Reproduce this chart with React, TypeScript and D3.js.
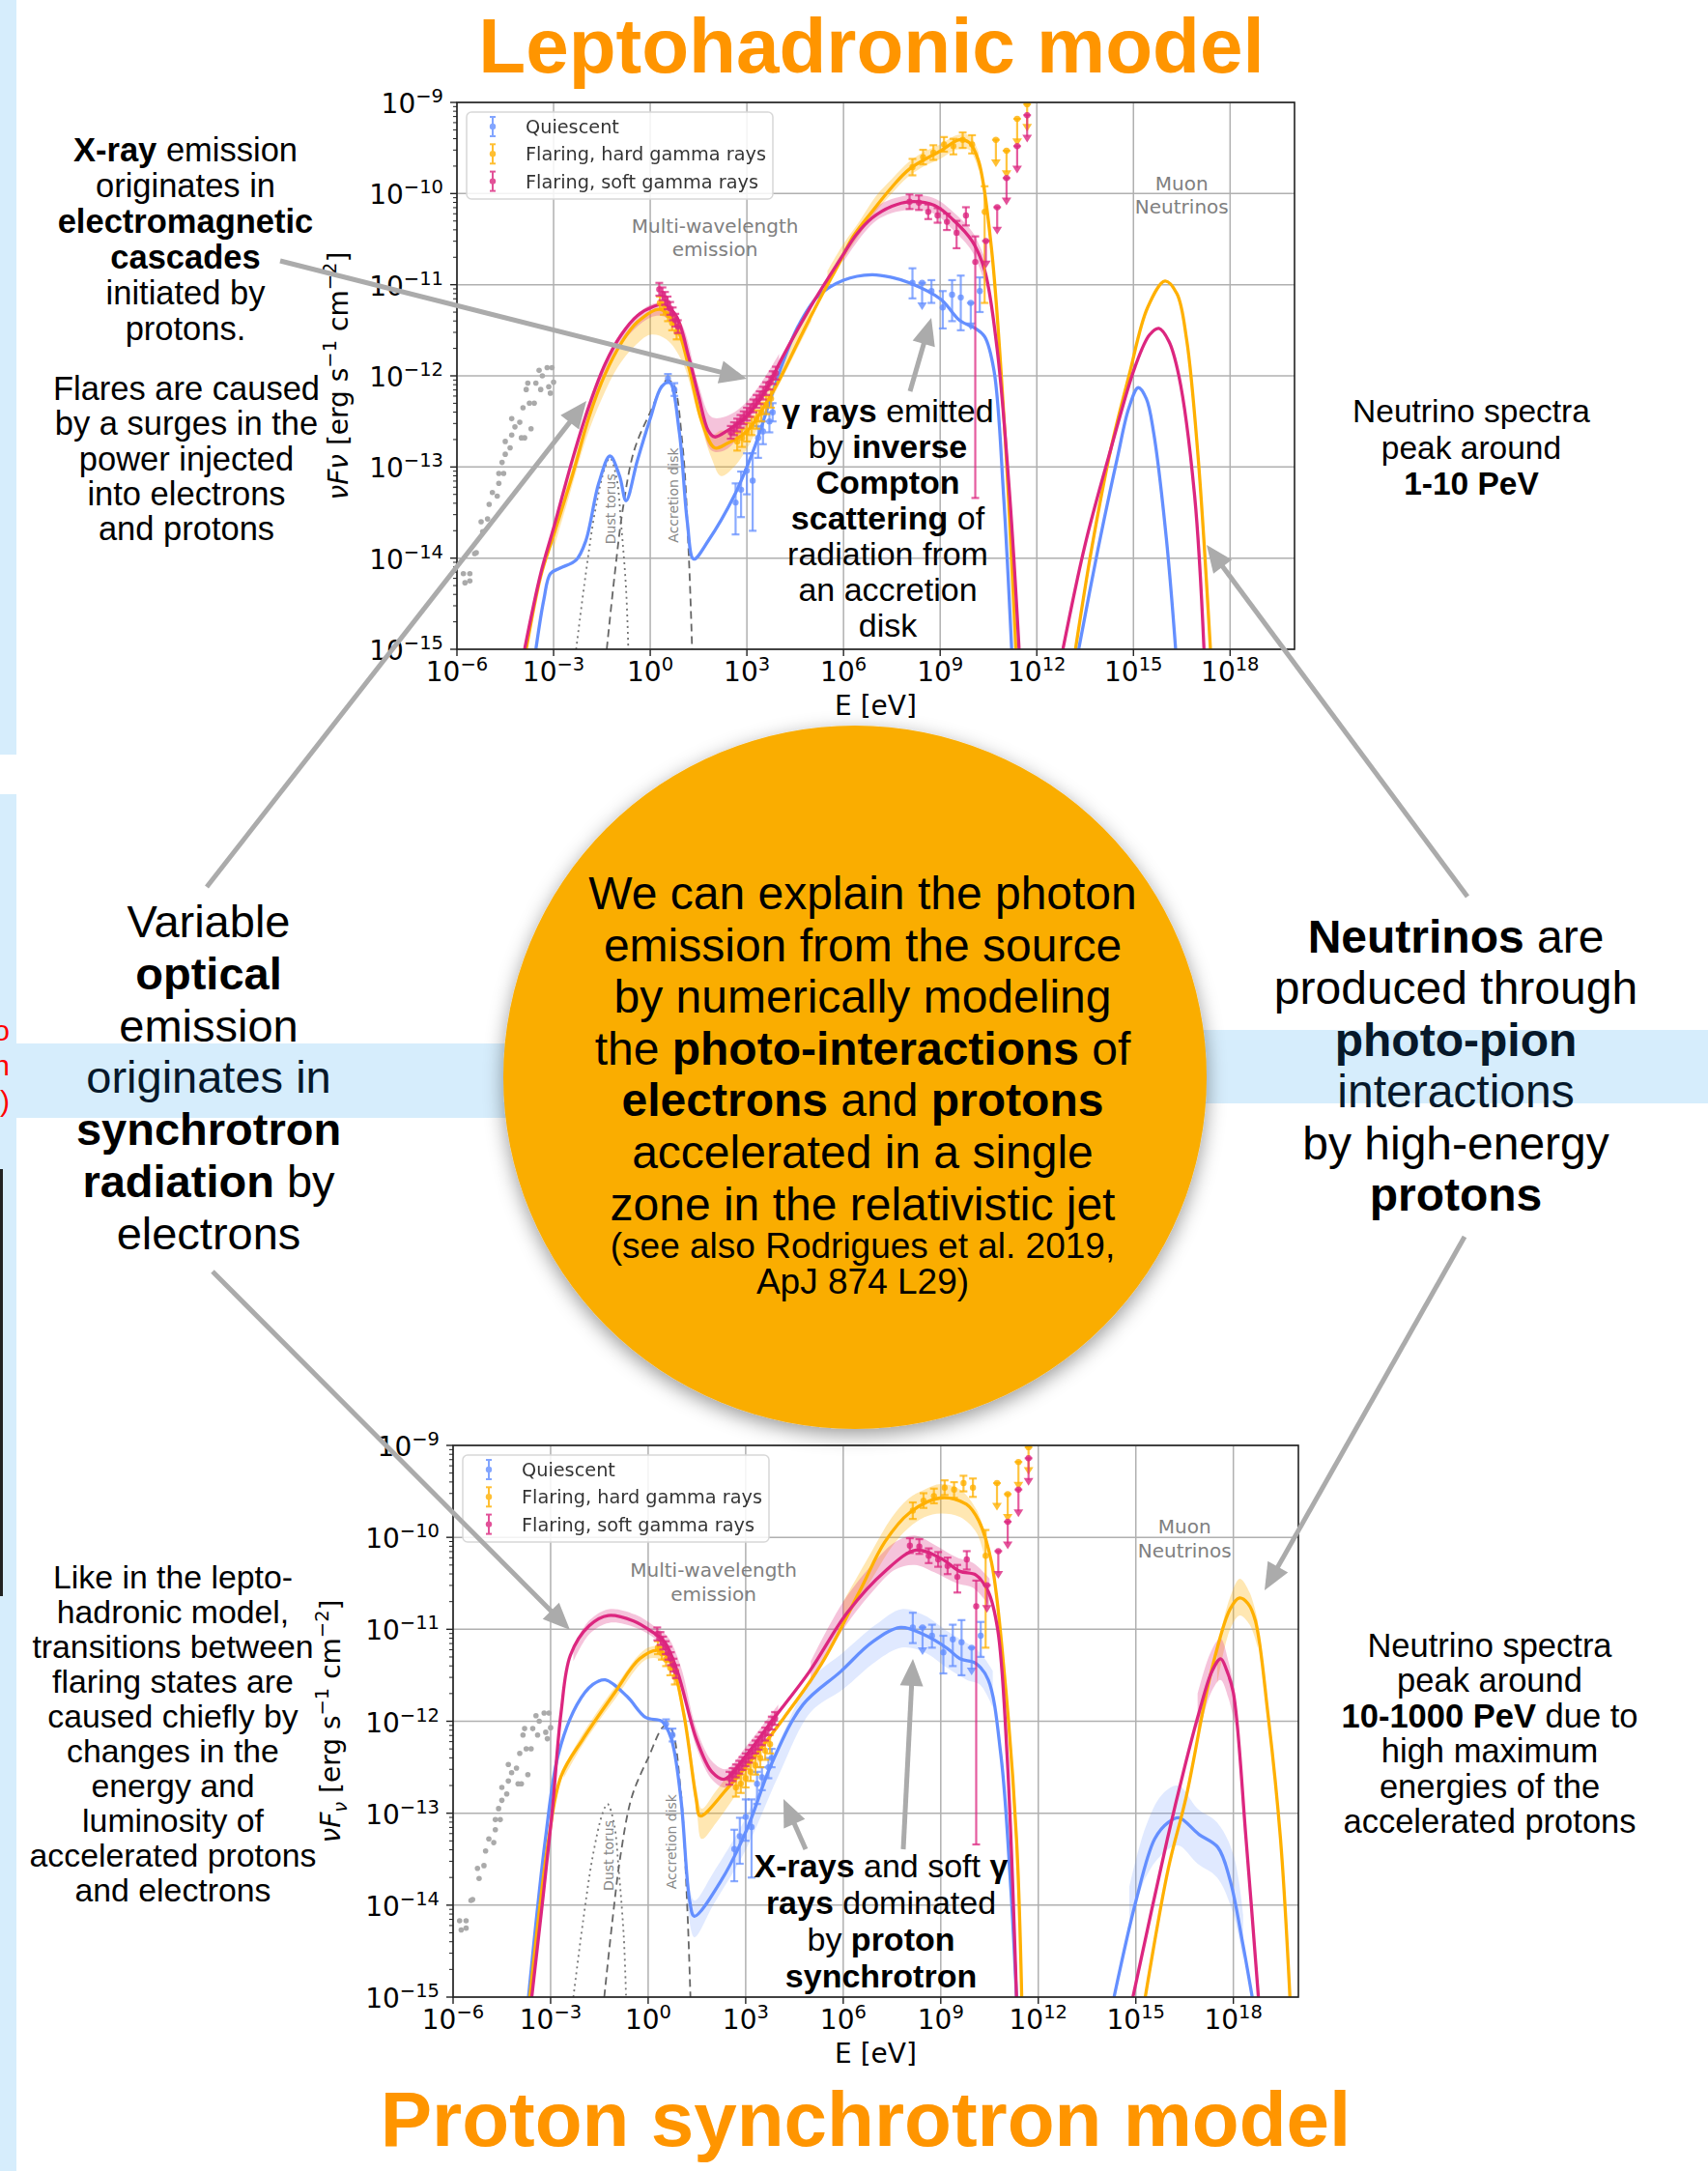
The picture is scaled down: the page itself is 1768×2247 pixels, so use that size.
import React from 'react'
import * as d3 from 'd3'

// page + fonts
const W = 1768
const H = 2247
const SANS = '"Liberation Sans", Arial, Helvetica, sans-serif'
const MPL = '"DejaVu Sans", sans-serif'

const BLUE = '#648FFF'
const ORANGE = '#FFB000'
const MAGENTA = '#DC267F'
const TITLE = '#FF9500'
const DISK = '#FAAD00'
const BAND = '#D6EDFC'
const ARROW = '#ABABAB'

// ---- data: [log10 E/eV, log10 nuFnu] ----
const xTicks = [-6, -3, 0, 3, 6, 9, 12, 15, 18]
const yTicks = [-15, -14, -13, -12, -11, -10, -9]

// leptohadronic model curves
const leptoBlue = [[-3.55,-15],[-3.3,-14.45],[-3.1,-14.17],[-2.8,-14.11],[-2.3,-14.02],[-2.0,-13.81],[-1.6,-13.18],[-1.25,-12.88],[-0.95,-13.1],[-0.75,-13.37],[-0.4,-12.93],[0,-12.47],[0.35,-12.12],[0.6,-12.07],[0.9,-12.61],[1.15,-13.6],[1.35,-14.01],[1.8,-13.81],[2.6,-13.32],[3.2,-12.82],[3.6,-12.4],[4.1,-11.87],[4.6,-11.45],[5.2,-11.13],[6.0,-10.95],[6.88,-10.89],[7.5,-10.92],[8.05,-10.98],[9.02,-11.16],[9.6,-11.39],[10.09,-11.48],[10.38,-11.57],[10.67,-11.94],[10.97,-13.32],[11.22,-15]]
const leptoOrange = [[-3.85,-15],[-3.4,-14.2],[-3.0,-13.75],[-2.4,-13.07],[-1.9,-12.45],[-1.4,-11.98],[-0.9,-11.64],[-0.4,-11.41],[0.3,-11.27],[0.8,-11.45],[1.2,-11.91],[1.6,-12.5],[2.0,-12.79],[2.4,-12.74],[3.0,-12.61],[3.6,-12.3],[4.1,-11.98],[4.6,-11.62],[5.2,-11.2],[5.9,-10.74],[6.3,-10.47],[6.88,-10.2],[7.5,-9.93],[8.05,-9.73],[9.02,-9.53],[9.6,-9.41],[9.9,-9.44],[10.19,-9.64],[10.58,-10.56],[10.97,-12.4],[11.35,-15]]
const leptoMagenta = [[-3.9,-15],[-3.4,-14.17],[-3.0,-13.67],[-2.4,-12.9],[-1.9,-12.33],[-1.4,-11.87],[-0.9,-11.55],[-0.4,-11.34],[0.1,-11.24],[0.4,-11.22],[0.8,-11.34],[1.2,-11.8],[1.5,-12.22],[1.8,-12.6],[2.0,-12.67],[2.4,-12.6],[3.0,-12.44],[3.6,-12.15],[4.1,-11.8],[5.1,-11.17],[5.9,-10.72],[6.4,-10.45],[6.88,-10.27],[7.5,-10.14],[8.05,-10.09],[8.82,-10.13],[9.41,-10.29],[9.99,-10.52],[10.38,-10.84],[10.77,-11.71],[11.16,-13.32],[11.45,-15]]
const leptoNuOrange = [[13.2,-15],[13.7,-13.9],[14.3,-12.8],[14.86,-12.0],[15.44,-11.25],[15.98,-10.96],[16.35,-11.1],[16.65,-11.6],[17.0,-12.86],[17.39,-15]]
const leptoNuMagenta = [[12.81,-15],[13.5,-13.85],[14.3,-12.8],[15.05,-11.9],[15.5,-11.55],[15.79,-11.48],[16.1,-11.62],[16.41,-12.0],[16.9,-13.32],[17.19,-15]]
const leptoNuBlue = [[13.3,-15],[13.9,-13.9],[14.5,-12.9],[14.86,-12.35],[15.15,-12.13],[15.4,-12.25],[15.63,-12.63],[16.02,-13.78],[16.31,-15]]

// leptohadronic uncertainty bands: [logE, low, high]
const leptoOrangeBand = [
  [[-3,-13.9,-13.7],[-2.5,-13.3,-13.1],[-2,-12.7,-12.5],[-1.5,-12.25,-12.02],[-1,-11.9,-11.68],[-0.5,-11.68,-11.44],[0,-11.55,-11.3],[0.5,-11.6,-11.3],[1,-11.85,-11.6],[1.5,-12.45,-12.2],[1.9,-12.9,-12.65],[2.2,-13.1,-12.6],[2.6,-13.0,-12.62],[3,-12.8,-12.52],[3.5,-12.45,-12.25],[4,-12.1,-11.9],[4.5,-11.75,-11.55],[5,-11.4,-11.2]],
  [[5.5,-11.05,-10.85],[6,-10.72,-10.55],[6.5,-10.45,-10.3],[7,-10.2,-10.03],[7.5,-10.0,-9.84],[8,-9.82,-9.66],[8.5,-9.7,-9.54],[9,-9.62,-9.46],[9.5,-9.52,-9.36],[9.9,-9.52,-9.36],[10.2,-9.75,-9.55]],
]
const leptoMagentaBand = [
  [[-2,-12.5,-12.4],[-1,-11.7,-11.58],[0,-11.36,-11.22],[0.5,-11.36,-11.22],[1,-11.62,-11.45],[1.5,-12.3,-12.1],[1.9,-12.82,-12.45],[2.3,-12.82,-12.45],[2.8,-12.65,-12.35],[3.4,-12.3,-12.1],[4,-11.92,-11.76]],
  [[6,-10.75,-10.62],[7,-10.3,-10.15],[8,-10.18,-10.02],[8.8,-10.22,-10.05],[9.4,-10.4,-10.2],[10,-10.64,-10.42],[10.4,-11.0,-10.72]],
]

// proton synchrotron model curves
const protonBlue = [[-3.68,-15],[-3.16,-13.28],[-2.77,-12.37],[-2.19,-11.82],[-1.7,-11.6],[-1.32,-11.55],[-0.65,-11.73],[-0.07,-11.96],[0.42,-12.0],[0.71,-12.19],[1.0,-12.82],[1.28,-13.96],[1.42,-14.12],[2.25,-13.73],[3.02,-13.19],[3.8,-12.46],[4.76,-11.82],[5.92,-11.46],[6.89,-11.14],[7.76,-10.98],[8.43,-11.05],[9.21,-11.21],[9.59,-11.32],[10.08,-11.37],[10.46,-11.55],[10.85,-12.37],[11.14,-13.73],[11.33,-15]]
const protonOrange = [[-3.64,-15],[-3.06,-13.28],[-2.68,-12.6],[-2.0,-12.19],[-1.03,-11.69],[-0.26,-11.32],[0.32,-11.23],[0.71,-11.37],[1.09,-11.91],[1.48,-12.85],[1.6,-13.03],[2.44,-12.73],[3.41,-12.32],[4.18,-11.96],[5.34,-11.37],[6.5,-10.59],[7.28,-10.05],[8.05,-9.73],[9.01,-9.57],[9.79,-9.64],[10.17,-9.82],[10.56,-10.27],[10.95,-11.46],[11.33,-13.28],[11.49,-15]]
const protonMagenta = [[-3.58,-15],[-2.97,-13.05],[-2.68,-11.91],[-2.39,-11.28],[-1.81,-10.96],[-1.23,-10.85],[-0.45,-10.91],[0.13,-11.03],[0.51,-11.14],[0.9,-11.46],[1.48,-12.19],[1.96,-12.55],[2.35,-12.63],[3.02,-12.37],[3.8,-12.0],[4.96,-11.46],[6.12,-10.82],[7.28,-10.37],[8.24,-10.14],[9.01,-10.23],[9.59,-10.37],[10.08,-10.41],[10.46,-10.59],[10.75,-11.0],[11.04,-12.37],[11.33,-15]]
const protonNuOrange = [[15.29,-15],[16.0,-13.6],[16.55,-12.82],[17.32,-11.46],[17.9,-10.78],[18.19,-10.66],[18.45,-10.72],[18.68,-10.91],[19.06,-11.91],[19.45,-13.28],[19.74,-15]]
const protonNuMagenta = [[14.91,-15],[15.97,-13.28],[16.5,-12.5],[16.94,-11.91],[17.35,-11.45],[17.61,-11.32],[17.8,-11.45],[18.0,-11.69],[18.39,-13.28],[18.77,-15]]
const protonNuBlue = [[14.33,-15],[15.0,-13.96],[15.58,-13.28],[16.0,-13.1],[16.32,-13.05],[16.94,-13.23],[17.52,-13.37],[17.9,-13.73],[18.29,-14.42],[18.58,-15]]

const protonOrangeBand = [
  [[-2.6,-12.62,-12.5],[-2,-12.25,-12.13],[-1,-11.75,-11.62],[0,-11.32,-11.2],[0.6,-11.38,-11.22],[1.1,-12.0,-11.85],[1.5,-13.0,-12.75],[1.65,-13.28,-12.95],[2.1,-13.1,-12.75],[2.8,-12.75,-12.45],[3.5,-12.4,-12.25]],
  [[6,-10.95,-10.7],[6.8,-10.5,-10.2],[7.5,-10.1,-9.78],[8,-9.9,-9.58],[8.5,-9.78,-9.48],[9,-9.74,-9.42],[9.6,-9.78,-9.48],[10.1,-9.95,-9.7],[10.4,-10.3,-10.0]],
  [[17.5,-11.6,-11.2],[17.9,-11.0,-10.65],[18.2,-10.85,-10.45],[18.5,-10.95,-10.6],[18.75,-11.2,-10.9]],
]
const protonMagentaBand = [
  [[-2.3,-11.35,-11.18],[-1.8,-11.05,-10.9],[-1.2,-10.93,-10.78],[-0.4,-10.98,-10.84],[0.2,-11.1,-10.97],[0.6,-11.25,-11.08],[1.0,-11.6,-11.4],[1.5,-12.3,-12.1],[2,-12.65,-12.45],[2.4,-12.72,-12.52],[3,-12.45,-12.28],[4,-11.98,-11.82]],
  [[5,-11.6,-11.35],[6,-11.0,-10.7],[7,-10.55,-10.25],[7.6,-10.35,-10.05],[8.2,-10.3,-9.98],[8.8,-10.38,-10.08],[9.5,-10.5,-10.22],[10,-10.55,-10.28],[10.5,-10.75,-10.45]],
  [[16.9,-12.2,-11.7],[17.3,-11.7,-11.25],[17.6,-11.55,-11.1],[17.85,-11.75,-11.35],[18.05,-12.05,-11.7]],
]
const protonBlueBand = [
  [[1.2,-13.95,-13.6],[1.42,-14.35,-13.95],[2,-14.0,-13.65],[3,-13.4,-13.05],[4,-12.6,-12.25],[5,-11.9,-11.55],[6,-11.65,-11.25],[7,-11.35,-10.95],[7.8,-11.2,-10.78],[8.5,-11.25,-10.85],[9.2,-11.42,-11.02],[9.8,-11.55,-11.15],[10.2,-11.6,-11.25],[10.6,-11.85,-11.45]],
  [[14.8,-14.25,-13.8],[15.3,-13.7,-13.15],[15.8,-13.45,-12.8],[16.3,-13.35,-12.7],[16.9,-13.55,-12.95],[17.5,-13.7,-13.1],[18,-14.1,-13.45],[18.3,-14.6,-14.1]],
]

// thermal components (same in both panels)
const dustTorus = [[-2.3,-15],[-2.0,-14.17],[-1.7,-13.46],[-1.4,-13.0],[-1.25,-12.9],[-1.05,-13.11],[-0.9,-13.64],[-0.75,-14.34],[-0.68,-15]]
const accretionDisk = [[-1.35,-15],[-1.1,-14.17],[-0.85,-13.46],[-0.5,-12.82],[0,-12.4],[0.5,-12.05],[0.7,-12.08],[1.0,-12.75],[1.2,-14.0],[1.3,-15]]

// archival radio points
const radioDots = [[-5.8,-14.17],[-5.6,-14.17],[-5.75,-14.27],[-5.6,-14.25],[-5.45,-13.95],[-5.4,-13.94],[-5.25,-13.6],[-5.2,-13.71],[-5.05,-13.57],[-5.0,-13.41],[-4.9,-13.28],[-4.75,-13.32],[-4.7,-13.07],[-4.6,-12.95],[-4.7,-13.18],[-4.55,-13.07],[-4.5,-12.86],[-4.35,-12.79],[-4.3,-12.65],[-4.5,-12.72],[-4.3,-12.47],[-4.2,-12.56],[-4.05,-12.51],[-4.0,-12.68],[-3.9,-12.68],[-3.95,-12.35],[-3.85,-12.15],[-3.8,-12.08],[-3.75,-12.3],[-3.7,-12.58],[-3.6,-12.3],[-3.55,-12.08],[-3.45,-11.94],[-3.4,-12.15],[-3.35,-12.0],[-3.2,-11.91],[-3.15,-12.12],[-3.05,-11.91],[-3.0,-12.07],[-3.1,-12.19]]

// observations: [logE, logF, errLow, errHigh, upperLimit]
const quiescentObs = [[0.55,-12.03,-12.08,-11.98],[0.75,-12.15,-12.22,-12.08],[2.65,-13.39,-13.74,-13.18],[2.82,-13.25,-13.55,-13.05],[3.0,-13.04,-13.3,-12.85],[3.18,-13.15,-13.7,-12.85],[3.35,-12.68,-12.9,-12.55],[3.5,-12.61,-12.75,-12.5],[3.7,-12.5,-12.62,-12.4],[3.8,-12.4,-12.5,-12.3],[8.14,-10.98,-11.15,-10.82],[8.44,-10.98,0,0,1],[8.73,-11.07,-11.2,-10.95],[9.08,-11.25,-11.48,-11.07],[9.37,-11.11,-11.4,-10.95],[9.64,-11.14,-11.5,-10.9],[9.95,-11.2,0,0,1],[10.23,-11.07,-11.3,-10.92]]
const hardObs = [[0.3,-11.2,-11.27,-11.13],[0.42,-11.26,-11.33,-11.19],[0.55,-11.33,-11.4,-11.26],[0.68,-11.42,-11.5,-11.35],[0.82,-11.52,-11.6,-11.44],[2.7,-12.72,-12.82,-12.62],[2.85,-12.68,-12.78,-12.58],[3.0,-12.62,-12.72,-12.52],[3.15,-12.55,-12.65,-12.45],[3.3,-12.48,-12.58,-12.38],[3.45,-12.4,-12.5,-12.3],[3.6,-12.32,-12.42,-12.22],[3.75,-12.25,-12.35,-12.15],[8.14,-9.71,-9.8,-9.62],[8.47,-9.6,-9.68,-9.52],[8.79,-9.55,-9.63,-9.47],[9.12,-9.46,-9.54,-9.38],[9.41,-9.48,-9.57,-9.4],[9.7,-9.41,-9.5,-9.33],[9.99,-9.46,-9.56,-9.36],[10.38,-10.2,-11.2,-9.92],[10.73,-9.41,0,0,1],[11.06,-9.53,0,0,1],[11.39,-9.18,0,0,1],[11.7,-9.02,0,0,1]]
const softObs = [[0.28,-11.05,-11.12,-10.98],[0.38,-11.1,-11.17,-11.03],[0.46,-11.15,-11.22,-11.08],[0.54,-11.2,-11.27,-11.13],[0.62,-11.26,-11.33,-11.19],[0.7,-11.32,-11.39,-11.25],[0.78,-11.39,-11.46,-11.32],[0.86,-11.46,-11.53,-11.39],[2.5,-12.62,-12.69,-12.55],[2.6,-12.58,-12.65,-12.51],[2.7,-12.54,-12.61,-12.47],[2.8,-12.5,-12.57,-12.43],[2.9,-12.46,-12.53,-12.39],[3.0,-12.42,-12.49,-12.35],[3.1,-12.38,-12.45,-12.31],[3.2,-12.33,-12.4,-12.26],[3.3,-12.28,-12.35,-12.21],[3.4,-12.24,-12.31,-12.17],[3.5,-12.19,-12.26,-12.12],[3.6,-12.14,-12.21,-12.07],[3.7,-12.08,-12.15,-12.01],[3.8,-12.02,-12.09,-11.95],[3.9,-11.97,-12.04,-11.9],[8.05,-10.09,-10.17,-10.01],[8.34,-10.1,-10.18,-10.02],[8.63,-10.2,-10.28,-10.12],[8.92,-10.24,-10.32,-10.16],[9.21,-10.31,-10.4,-10.22],[9.51,-10.43,-10.6,-10.3],[9.8,-10.24,-10.35,-10.15],[10.09,-10.75,-13.34,-10.47],[10.42,-10.52,0,0,1],[10.77,-10.15,0,0,1],[11.06,-9.83,0,0,1],[11.39,-9.48,0,0,1],[11.7,-9.14,0,0,1]]

const legendLabels = ['Quiescent', 'Flaring, hard gamma rays', 'Flaring, soft gamma rays']

// text blocks (** marks bold)
const cascadeText = ['**X-ray** emission', 'originates in', '**electromagnetic**', '**cascades**', 'initiated by', 'protons.']
const flaresText = ['Flares are caused', 'by a surges in the', 'power injected', 'into electrons', 'and protons']
const opticalText = ['Variable', '**optical**', 'emission', 'originates in', '**synchrotron**', '**radiation** by', 'electrons']
const discText = ['We can explain the photon', 'emission from the source', 'by numerically modeling', 'the **photo-interactions** of', '**electrons** and **protons**', 'accelerated in a single', 'zone in the relativistic jet']
const citeText = ['(see also Rodrigues et al. 2019,', 'ApJ 874 L29)']
const nuPeakText = ['Neutrino spectra', 'peak around', '**1-10 PeV**']
const nuProdText = ['**Neutrinos** are', 'produced through', '**photo-pion**', 'interactions', 'by high-energy', '**protons**']
const likeText = ['Like in the lepto-', 'hadronic model,', 'transitions between', 'flaring states are', 'caused chiefly by', 'changes in the', 'energy and', 'luminosity of', 'accelerated protons', 'and electrons']
const nuPeak2Text = ['Neutrino spectra', 'peak around', '**10-1000 PeV** due to', 'high maximum', 'energies of the', 'accelerated protons']
const icText = ['**γ rays** emitted', 'by **inverse**', '**Compton**', '**scattering** of', 'radiation from', 'an accretion', 'disk']
const psText = ['**X-rays** and soft **γ**', '**rays** dominated', 'by **proton**', '**synchrotron**']

// arrows: x1, y1, x2 (tip), y2
const arrows = [
  [290, 270, 773, 392],
  [214, 918, 607, 415],
  [220, 1316, 590, 1687],
  [942, 405, 964, 329],
  [1519, 928, 1249, 564],
  [1516, 1280, 1309, 1646],
  [834, 1914, 811, 1862],
  [935, 1914, 945, 1717],
]

function Rich({ s }: { s: string }) {
  const parts = s.split('**')
  return (
    <>
      {parts.map((p, i) => (p ? <tspan key={i} fontWeight={i % 2 ? 'bold' : 'normal'}>{p}</tspan> : null))}
    </>
  )
}

function TextBlock({ x, y, dy, size, lines, fill = '#000', tint = [] as number[] }) {
  return (
    <text fontFamily={SANS} fontSize={size} textAnchor="middle" style={{ whiteSpace: 'pre' }}>
      {lines.map((ln: string, i: number) => (
        <tspan key={i} x={x} y={y + i * dy} fill={tint.includes(i) ? '#06182a' : fill}>
          <Rich s={ln} />
        </tspan>
      ))}
    </text>
  )
}

function Arrow({ a }: { a: number[] }) {
  const [x1, y1, x2, y2] = a
  const len = Math.hypot(x2 - x1, y2 - y1)
  const ux = (x2 - x1) / len
  const uy = (y2 - y1) / len
  const hl = 28
  const hw = 12
  const bx = x2 - ux * hl
  const by = y2 - uy * hl
  return (
    <g>
      <line x1={x1} y1={y1} x2={bx + ux * 4} y2={by + uy * 4} stroke={ARROW} strokeWidth={5} />
      <polygon points={`${x2},${y2} ${bx - uy * hw},${by + ux * hw} ${bx + uy * hw},${by - ux * hw}`} fill={ARROW} />
    </g>
  )
}

function Sup({ v }: { v: number }) {
  return (
    <>
      <tspan>10</tspan>
      <tspan dy={-11} fontSize={19.5}>{v < 0 ? '\u2212' + Math.abs(v) : String(v)}</tspan>
    </>
  )
}

function ErrorBars({ data, color, X, Y }) {
  return (
    <g stroke={color} fill={color} strokeOpacity={0.75} fillOpacity={0.8} strokeWidth={2.2}>
      {data.map((d: number[], i: number) => {
        const [e, f, lo, hi, ul] = d
        const cx = X(e)
        if (ul) {
          const y0 = Y(f)
          const y1 = Y(f - 0.3)
          return (
            <g key={i}>
              <line x1={cx - 4} x2={cx + 4} y1={y0} y2={y0} />
              <line x1={cx} x2={cx} y1={y0} y2={y1 - 6} />
              <path d={`M${cx - 5},${y1 - 8}L${cx + 5},${y1 - 8}L${cx},${y1}Z`} stroke="none" />
              <circle cx={cx} cy={y0} r={3.2} stroke="none" />
            </g>
          )
        }
        return (
          <g key={i}>
            <line x1={cx} x2={cx} y1={Y(lo)} y2={Y(hi)} />
            <line x1={cx - 4} x2={cx + 4} y1={Y(lo)} y2={Y(lo)} />
            <line x1={cx - 4} x2={cx + 4} y1={Y(hi)} y2={Y(hi)} />
            <circle cx={cx} cy={Y(f)} r={3.2} stroke="none" />
          </g>
        )
      })}
    </g>
  )
}

function SedPanel({ box, blue, orange, magenta, bands, sub, labelX, id }) {
  const { l, r, t, b } = box
  const x = d3.scaleLog().domain([1e-6, 1e20]).range([l, r])
  const y = d3.scaleLog().domain([1e-15, 1e-9]).range([b, t])
  const X = (e: number) => x(Math.pow(10, e))
  const Y = (f: number) => y(Math.pow(10, f))
  const curve = d3.curveCatmullRom.alpha(0.5)
  const line = d3.line<number[]>().x(d => X(d[0])).y(d => Y(d[1])).curve(curve)
  const area = d3.area<number[]>().x(d => X(d[0])).y0(d => Y(d[1])).y1(d => Y(d[2])).curve(curve)
  const minor: number[] = []
  for (let k = -15; k < -9; k++) for (let m = 2; m < 10; m++) minor.push(k + Math.log10(m))
  const obs = [
    { data: quiescentObs, color: BLUE },
    { data: hardObs, color: ORANGE },
    { data: softObs, color: MAGENTA },
  ]
  return (
    <g>
      <defs>
        <clipPath id={id}>
          <rect x={l} y={t} width={r - l} height={b - t} />
        </clipPath>
      </defs>
      <rect x={l} y={t} width={r - l} height={b - t} fill="#fff" />
      <g stroke="#b0b0b0" strokeWidth={1.5}>
        {xTicks.map(e => <line key={'gx' + e} x1={X(e)} x2={X(e)} y1={t} y2={b} />)}
        {yTicks.map(f => <line key={'gy' + f} x1={l} x2={r} y1={Y(f)} y2={Y(f)} />)}
      </g>
      <g clipPath={`url(#${id})`}>
        <path d={line(dustTorus) || ''} fill="none" stroke="#777" strokeWidth={1.8} strokeDasharray="2,4" />
        <path d={line(accretionDisk) || ''} fill="none" stroke="#666" strokeWidth={1.8} strokeDasharray="8,5" />
        {radioDots.map((d, i) => <circle key={i} cx={X(d[0])} cy={Y(d[1])} r={2.8} fill="#aaa" />)}
        {bands.orange.map((s, i) => <path key={'bo' + i} d={area(s) || ''} fill={ORANGE} fillOpacity={0.3} />)}
        {bands.magenta.map((s, i) => <path key={'bm' + i} d={area(s) || ''} fill={MAGENTA} fillOpacity={0.28} />)}
        {bands.blue.map((s, i) => <path key={'bb' + i} d={area(s) || ''} fill={BLUE} fillOpacity={0.2} />)}
        {blue.map((s, i) => <path key={'lb' + i} d={line(s) || ''} fill="none" stroke={BLUE} strokeWidth={3.3} />)}
        {orange.map((s, i) => <path key={'lo' + i} d={line(s) || ''} fill="none" stroke={ORANGE} strokeWidth={3.3} />)}
        {magenta.map((s, i) => <path key={'lm' + i} d={line(s) || ''} fill="none" stroke={MAGENTA} strokeWidth={3.3} />)}
        {obs.map((o, i) => <ErrorBars key={i} data={o.data} color={o.color} X={X} Y={Y} />)}
      </g>
      <g fill="#808080" fontFamily={MPL} fontSize={20} textAnchor="middle">
        <text x={X(2.01)} y={Y(-10.43)}>Multi-wavelength</text>
        <text x={X(2.01)} y={Y(-10.69)}>emission</text>
        <text x={X(16.5)} y={Y(-9.96)}>Muon</text>
        <text x={X(16.5)} y={Y(-10.22)}>Neutrinos</text>
      </g>
      <g fill="#888" fontFamily={MPL} fontSize={14} textAnchor="middle" dominantBaseline="central">
        <text transform={`translate(${X(-1.23)},${Y(-13.46)}) rotate(-90)`}>Dust torus</text>
        <text transform={`translate(${X(0.72)},${Y(-13.31)}) rotate(-90)`}>Accretion disk</text>
      </g>
      <g transform={`translate(${l + 10},${t + 10})`}>
        <rect width={317} height={90} rx={5} fill="#fff" fillOpacity={0.85} stroke="#d8d8d8" strokeWidth={1.5} />
        {[BLUE, ORANGE, MAGENTA].map((c, i) => (
          <g key={i} transform={`translate(27,${15 + i * 28.3})`} stroke={c} fill={c} strokeWidth={2} opacity={0.8}>
            <line x1={0} x2={0} y1={-10} y2={10} />
            <line x1={-3} x2={3} y1={-10} y2={-10} />
            <line x1={-3} x2={3} y1={10} y2={10} />
            <circle r={3.2} stroke="none" />
            <text x={34} y={7} stroke="none" fill="#000" fontFamily={MPL} fontSize={19.3}>{legendLabels[i]}</text>
          </g>
        ))}
      </g>
      <rect x={l} y={t} width={r - l} height={b - t} fill="none" stroke="#222" strokeWidth={1.6} />
      <g stroke="#222" strokeWidth={1.4}>
        {xTicks.map(e => <line key={'tx' + e} x1={X(e)} x2={X(e)} y1={b} y2={b + 7} />)}
        {yTicks.map(f => <line key={'ty' + f} x1={l - 7} x2={l} y1={Y(f)} y2={Y(f)} />)}
        {minor.map((f, i) => <line key={'mn' + i} x1={l - 4} x2={l} y1={Y(f)} y2={Y(f)} strokeWidth={1} />)}
      </g>
      <g fontFamily={MPL} fontSize={28} fill="#000">
        {xTicks.map(e => (
          <text key={'lx' + e} x={X(e)} y={b + 33} textAnchor="middle"><Sup v={e} /></text>
        ))}
        {yTicks.map(f => (
          <text key={'ly' + f} x={l - 14} y={Y(f) + 11} textAnchor="end"><Sup v={f} /></text>
        ))}
        <text x={(l + r) / 2} y={b + 68} textAnchor="middle">E [eV]</text>
        <text transform={`translate(${labelX},${(t + b) / 2}) rotate(-90)`} textAnchor="middle" style={{ whiteSpace: 'pre' }}>
          {sub ? (
            <>
              <tspan fontStyle="italic">νF</tspan>
              <tspan dy={7} fontSize={19.5} fontStyle="italic">ν</tspan>
              <tspan dy={-7}> [erg s</tspan>
            </>
          ) : (
            <>
              <tspan fontStyle="italic">νFν</tspan>
              <tspan> [erg s</tspan>
            </>
          )}
          <tspan dy={-12} fontSize={19.5}>−1</tspan>
          <tspan dy={12}> cm</tspan>
          <tspan dy={-12} fontSize={19.5}>−2</tspan>
          <tspan dy={12}>]</tspan>
        </text>
      </g>
    </g>
  )
}

export default function App() {
  return (
    <svg width={W} height={H} viewBox={`0 0 ${W} ${H}`} style={{ position: 'absolute', left: 0, top: 0, background: '#fff' }}>
      <defs>
        <filter id="discShadow" x="-20%" y="-20%" width="140%" height="140%">
          <feDropShadow dx={0} dy={6} stdDeviation={10} floodColor="#000" floodOpacity={0.4} />
        </filter>
      </defs>
      <rect width={W} height={H} fill="#fff" />
      {/* side strips and the light-blue band */}
      <rect x={0} y={0} width={17} height={781} fill={BAND} />
      <rect x={0} y={822} width={17} height={H - 822} fill={BAND} />
      <rect x={0} y={1080} width={540} height={77} fill={BAND} />
      <rect x={1230} y={1066} width={W - 1230} height={76} fill={BAND} />
      <rect x={0} y={1210} width={3} height={442} fill="#222" />
      <g fill="#f00" fontFamily={SANS} fontSize={30} textAnchor="end">
        <text x={10} y={1077}>o</text>
        <text x={10} y={1113}>n</text>
        <text x={10} y={1150}>)</text>
      </g>

      <text x={902} y={75} textAnchor="middle" fontFamily={SANS} fontWeight="bold" fontSize={80} fill={TITLE}>Leptohadronic model</text>
      <text x={896} y={2221} textAnchor="middle" fontFamily={SANS} fontWeight="bold" fontSize={80} fill={TITLE}>Proton synchrotron model</text>

      <SedPanel
        id="clipTop"
        box={{ l: 473, r: 1340, t: 106, b: 672 }}
        blue={[leptoBlue, leptoNuBlue]}
        orange={[leptoOrange, leptoNuOrange]}
        magenta={[leptoMagenta, leptoNuMagenta]}
        bands={{ orange: leptoOrangeBand, magenta: leptoMagentaBand, blue: [] }}
        sub={false}
        labelX={360}
      />
      <SedPanel
        id="clipBottom"
        box={{ l: 469, r: 1344, t: 1496, b: 2067 }}
        blue={[protonBlue, protonNuBlue]}
        orange={[protonOrange, protonNuOrange]}
        magenta={[protonMagenta, protonNuMagenta]}
        bands={{ orange: protonOrangeBand, magenta: protonMagentaBand, blue: protonBlueBand }}
        sub={true}
        labelX={352}
      />

      <circle cx={885} cy={1115} r={364} fill={DISK} filter="url(#discShadow)" />
      <TextBlock x={893} y={941} dy={53.6} size={48} lines={discText} />
      <TextBlock x={893} y={1302} dy={37} size={37} lines={citeText} />

      <TextBlock x={192} y={167} dy={37} size={34.5} lines={cascadeText} />
      <TextBlock x={193} y={414} dy={36.3} size={34.5} lines={flaresText} />
      <TextBlock x={216} y={970} dy={53.8} size={47} lines={opticalText} tint={[3]} />
      <TextBlock x={1523} y={437} dy={37.5} size={33.5} lines={nuPeakText} />
      <TextBlock x={1507} y={986} dy={53.4} size={48} lines={nuProdText} tint={[2, 3]} />
      <TextBlock x={179} y={1644} dy={36} size={33.8} lines={likeText} />
      <TextBlock x={1542} y={1715} dy={36.4} size={34.5} lines={nuPeak2Text} />
      <TextBlock x={919} y={437} dy={37} size={34} lines={icText} />
      <TextBlock x={912} y={1943} dy={38} size={34} lines={psText} />

      {arrows.map((a, i) => <Arrow key={i} a={a} />)}
    </svg>
  )
}
